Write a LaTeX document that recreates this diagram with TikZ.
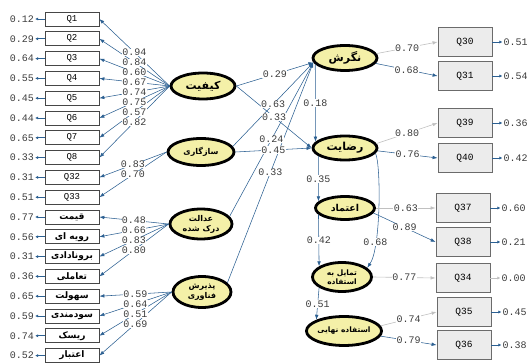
\documentclass[tikz,border=0pt]{standalone}
\usepackage{fontspec}
\setmonofont{Liberation Mono}
\newfontfamily\farsifont[Script=Arabic]{DejaVu Sans}
\TeXXeTstate=1
\newcommand\pers[1]{{\farsifont\bfseries\beginR #1\endR}}
\usetikzlibrary{shapes.geometric,arrows.meta,calc}
\definecolor{lineblue}{RGB}{44,96,146}
\definecolor{lightline}{RGB}{192,192,192}
\definecolor{latfill}{RGB}{244,240,168}
\definecolor{numtext}{RGB}{60,60,60}
\definecolor{boxfill}{RGB}{236,236,236}
\definecolor{boxline}{RGB}{70,70,70}
\tikzset{
  latent/.style={ellipse, draw=black, line width=2.8pt, fill=latfill, inner sep=0pt, align=center},
  obsL/.style={draw=boxline, fill=white, minimum width=54pt, minimum height=14pt, inner sep=0pt,
    line width=0.7pt, font=\ttfamily\fontsize{9}{9}\selectfont},
  obsR/.style={draw=boxline!80, fill=boxfill, minimum width=54pt, minimum height=29pt, inner sep=0pt,
    line width=0.8pt, font=\ttfamily\fontsize{9.5}{10}\selectfont},
  num/.style={font=\ttfamily\fontsize{10}{10}\selectfont, text=numtext, inner sep=0.4pt, fill=white},
  errnum/.style={font=\ttfamily\fontsize{10}{10}\selectfont, text=numtext, inner sep=1pt},
  link/.style={draw=lineblue, line width=0.55pt, -{Latex[length=5pt,width=3.6pt]}},
  glink/.style={draw=lightline, line width=0.6pt, -{Latex[length=5pt,width=3.6pt]}},
  errlink/.style={draw=lineblue, line width=0.9pt, -{Latex[length=3pt,width=3.2pt]}},
  gerrlink/.style={draw=lightline, line width=0.9pt, -{Latex[length=3pt,width=3.2pt]}},
}
\begin{document}
\begin{tikzpicture}[x=1pt,y=-1pt]
\useasboundingbox (0,0) rectangle (528,363);

% exogenous latent variables
\node[latent, minimum width=64pt, minimum height=26pt, font=\fontsize{11}{12}\selectfont] (kif) at (203,86) {\pers{کیفیت}};
\node[latent, minimum width=66pt, minimum height=27pt, font=\fontsize{8}{9}\selectfont] (saz) at (201,152) {\pers{سازگاری}};
\node[latent, minimum width=62pt, minimum height=30pt, font=\fontsize{8}{10}\selectfont] (adl) at (201,224) {\pers{عدالت}\\\pers{درک شده}};
\node[latent, minimum width=58pt, minimum height=31pt, font=\fontsize{8}{10}\selectfont] (paz) at (202,292) {\pers{پذیرش}\\\pers{فناوری}};

% endogenous latent variables
\node[latent, minimum width=64pt, minimum height=25pt, font=\fontsize{11}{12}\selectfont] (ngr) at (345,58) {\pers{نگرش}};
\node[latent, minimum width=64pt, minimum height=24pt, font=\fontsize{11}{12}\selectfont] (rez) at (345,148) {\pers{رضایت}};
\node[latent, minimum width=59pt, minimum height=23pt, font=\fontsize{9.5}{11}\selectfont] (etm) at (345,208) {\pers{اعتماد}};
\node[latent, minimum width=59pt, minimum height=29pt, font=\fontsize{7.5}{9}\selectfont] (tam) at (342,277) {\pers{تمایل به}\\\pers{استفاده}};
\node[latent, minimum width=63pt, minimum height=29pt, font=\fontsize{7.5}{9}\selectfont] (nah) at (344,331) {\pers{استفاده نهایی}};

% left indicators with their error values
\foreach \i/\t/\e [evaluate=\i as \yy using 19+19.8*(\i-1)] in
  {1/Q1/0.12, 2/Q2/0.29, 3/Q3/0.64, 4/Q4/0.55, 5/Q5/0.45, 6/Q6/0.44,
   7/Q7/0.65, 8/Q8/0.33, 9/Q32/0.31, 10/Q33/0.51,
   11/\pers{قیمت}/0.77, 12/\pers{رویه ای}/0.56, 13/\pers{برونادادی}/0.31, 14/\pers{تعاملی}/0.36,
   15/\pers{سهولت}/0.65, 16/\pers{سودمندی}/0.59, 17/\pers{ریسک}/0.74, 18/\pers{اعتبار}/0.52} {
  \node[obsL] (l\i) at (72,\yy) {\t};
  \node[errnum] (le\i) at (22,\yy) {\e};
  \draw[errlink] (l\i.west) -- (le\i.east);
}

% loadings of the exogenous factors
\foreach \lat/\i/\v in {kif/1/0.94, kif/2/0.84, kif/3/0.60, kif/4/0.67, kif/5/0.74, kif/6/0.75,
    kif/7/0.57, kif/8/0.82, saz/9/0.83, saz/10/0.70, adl/11/0.48, adl/12/0.66, adl/13/0.83,
    adl/14/0.80, paz/15/0.59, paz/16/0.64, paz/17/0.51, paz/18/0.69}
  \draw[link] (\lat.west) -- (l\i.east);
\foreach \lat/\i/\v in {kif/1/0.94, kif/2/0.84, kif/3/0.60, kif/4/0.67, kif/5/0.74, kif/6/0.75,
    kif/7/0.57, kif/8/0.82, saz/9/0.83, saz/10/0.70, adl/11/0.48, adl/12/0.66, adl/13/0.83,
    adl/14/0.80, paz/15/0.59, paz/16/0.64, paz/17/0.51, paz/18/0.69}
  \node[num] at ($(\lat.west)!0.5!(l\i.east)$) {\v};

% structural paths
\draw[link] (kif.east) -- (ngr.188);
\draw[link] (kif.east) -- (rez.west);
\draw[link] (saz.10) -- (ngr.188);
\draw[link] (saz.east) -- (rez.west);
\draw[link] (adl.15) -- (ngr.188);
\draw[link] (paz.20) -- (ngr.188);
\draw[link] (ngr.192) -- (rez.168);
\draw[link] (rez.197) -- (etm.166);
\draw[link] (etm.194) -- (tam.155);
\draw[link] (tam.205) -- (nah.158);
\draw[link] (rez.-10) .. controls (381,165) and (381,248) .. (tam.20)
  node[num, pos=0.74] {0.68};

\node[num] at ($(kif.east)!0.5!(ngr.188)$) {0.29};
\node[num] at ($(kif.east)!0.5!(rez.west)$) {0.33};
\node[num] at ($(saz.10)!0.5!(ngr.188)$) {0.63};
\node[num] at ($(saz.east)!0.5!(rez.west)$) {0.45};
\node[num] at ($(adl.15)!0.5!(ngr.188)$) {0.24};
\node[num] at ($(paz.20)!0.5!(ngr.188)$) {0.33};
\node[num] at ($(ngr.192)!0.5!(rez.168)$) {0.18};
\node[num] at ($(rez.197)!0.5!(etm.166)$) {0.35};
\node[num] at ($(etm.194)!0.5!(tam.155)$) {0.42};
\node[num] at ($(tam.205)!0.5!(nah.158)$) {0.51};

% right indicators
\node[obsR] (r30) at (465,42) {Q30};
\node[obsR] (r31) at (465,76) {Q31};
\node[obsR] (r39) at (465,123) {Q39};
\node[obsR] (r40) at (465,158) {Q40};
\node[obsR] (r37) at (463,208) {Q37};
\node[obsR] (r38) at (463,242) {Q38};
\node[obsR] (r34) at (463,278) {Q34};
\node[obsR] (r35) at (464,312) {Q35};
\node[obsR] (r36) at (464,345) {Q36};

\foreach \b/\e in {30/0.51, 31/0.54, 39/0.36, 40/0.42, 37/0.60, 38/0.21, 35/0.45, 36/0.38} {
  \node[errnum, anchor=west] (re\b) at ([xshift=10pt]r\b.east) {\e};
  \draw[errlink] (r\b.east) -- (re\b.west);
}
\node[errnum, anchor=west] (re34) at ([xshift=10pt]r34.east) {0.00};
\draw[gerrlink] (r34.east) -- (re34.west);

% loadings of the endogenous factors
\draw[glink] (ngr.8) -- (r30.west);
\draw[link] (ngr.-10) -- (r31.west);
\draw[glink] (rez.8) -- (r39.west);
\draw[link] (rez.-5) -- (r40.west);
\draw[glink] (etm.east) -- (r37.west);
\draw[link] (etm.-10) -- (r38.west);
\draw[glink] (tam.east) -- (r34.west);
\draw[glink] (nah.8) -- (r35.west);
\draw[link] (nah.-8) -- (r36.west);

\node[num] at ($(ngr.8)!0.5!(r30.west)$) {0.70};
\node[num] at ($(ngr.-10)!0.5!(r31.west)$) {0.68};
\node[num] at ($(rez.8)!0.5!(r39.west)$) {0.80};
\node[num] at ($(rez.-5)!0.5!(r40.west)$) {0.76};
\node[num] at ($(etm.east)!0.5!(r37.west)$) {0.63};
\node[num] at ($(etm.-10)!0.5!(r38.west)$) {0.89};
\node[num] at ($(tam.east)!0.5!(r34.west)$) {0.77};
\node[num] at ($(nah.8)!0.5!(r35.west)$) {0.74};
\node[num] at ($(nah.-8)!0.5!(r36.west)$) {0.79};
\end{tikzpicture}
\end{document}
